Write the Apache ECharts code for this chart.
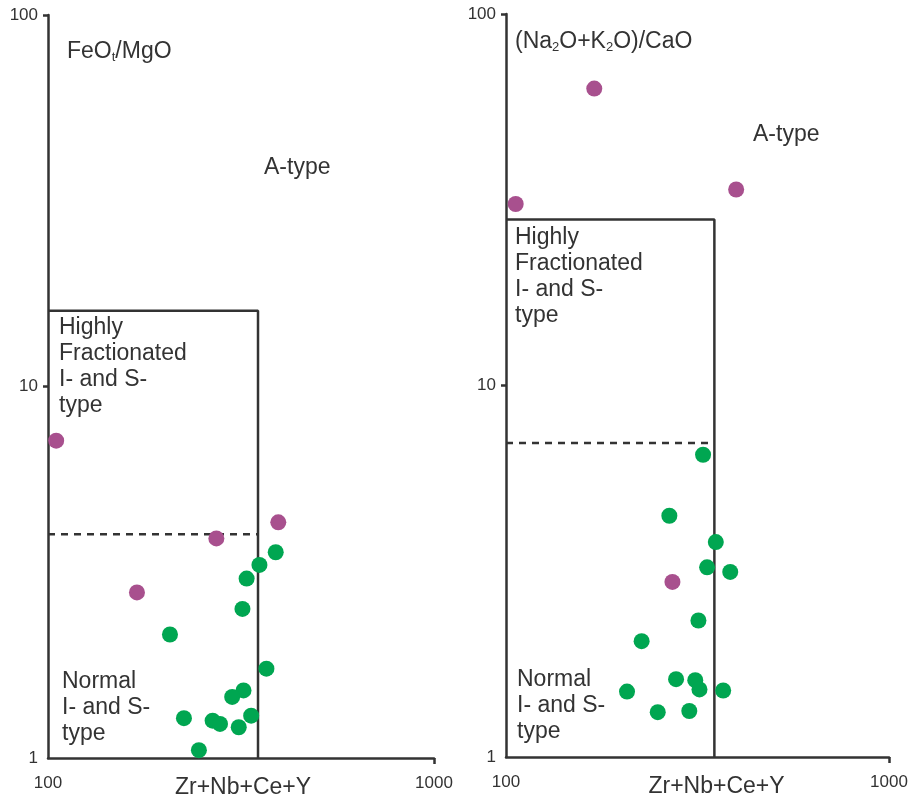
<!DOCTYPE html>
<html>
<head>
<meta charset="utf-8">
<script src="https://cdn.jsdelivr.net/npm/echarts@6/dist/echarts.min.js"></script>
<style>
  html, body { margin: 0; padding: 0; background: #fff; }
  #chart { width: 917px; height: 800px; }
</style>
</head>
<body>
<div id="chart"></div>
<script>
// Granite discrimination diagrams (Zr+Nb+Ce+Y vs FeOt/MgO and (Na2O+K2O)/CaO)

// Tick labels
const xTickValues = [100, 1000];
const yTickValues = [1, 10, 100];

// Panel 1: FeOt/MgO
const feoPurpleX = [105, 273, 395, 170];
const feoPurpleY = [7.15, 3.9, 4.31, 2.79];
const feoGreenX = [389, 353, 327, 319, 207, 368, 321, 300, 225, 267, 279, 336, 312, 246];
const feoGreenY = [3.58, 3.31, 3.04, 2.52, 2.15, 1.74, 1.52, 1.46, 1.28, 1.26, 1.235, 1.30, 1.21, 1.05];
// Field boundaries
const feoBoxX = [100, 350, 350];
const feoBoxY = [16, 16, 1];
const feoDashX = [100, 350];
const feoDashY = [4, 4];

// Panel 2: (Na2O+K2O)/CaO
const alkPurpleX = [170, 106, 399, 272];
const alkPurpleY = [63, 30.8, 33.7, 2.96];
const alkGreenX = [327, 267, 353, 335, 385, 318, 226, 278, 312, 320, 369, 207, 249, 301];
const alkGreenY = [6.51, 4.46, 3.79, 3.24, 3.15, 2.33, 2.05, 1.62, 1.61, 1.52, 1.51, 1.50, 1.32, 1.33];
const alkBoxX = [100, 350, 350];
const alkBoxY = [28, 28, 1];
const alkDashX = [100, 350];
const alkDashY = [7, 7];

const xName = 'Zr+Nb+Ce+Y';

const INK = '#333333';
const PURPLE = '#A8508E';
const GREEN = '#00A651';
const FONT = 'Liberation Sans, Arial, sans-serif';

const zip = (xs, ys) => xs.map((x, i) => [x, ys[i]]);

function xAxisFor(gridIndex, namePad) {
  return {
    type: 'log', logBase: 10, gridIndex,
    min: xTickValues[0], max: xTickValues[xTickValues.length - 1],
    name: xName, nameLocation: 'middle', nameGap: 18, nameMoveOverlap: false,
    nameTextStyle: { fontFamily: FONT, fontSize: 23, color: INK, padding: namePad },
    axisLine: { show: true, onZero: false, lineStyle: { color: INK, width: 2.5 } },
    axisTick: { show: true, customValues: [1000], length: 6, lineStyle: { color: INK, width: 2.5 } },
    axisLabel: {
      show: true, customValues: xTickValues, margin: 17,
      fontFamily: FONT, fontSize: 17, color: INK,
      formatter: v => String(Math.round(v))
    },
    splitLine: { show: false }, minorTick: { show: false }
  };
}

function yAxisFor(gridIndex) {
  return {
    type: 'log', logBase: 10, gridIndex,
    min: yTickValues[0], max: yTickValues[yTickValues.length - 1],
    axisLine: { show: true, onZero: false, lineStyle: { color: INK, width: 2.5 } },
    axisTick: { show: true, customValues: [10, 100], length: 5, lineStyle: { color: INK, width: 2.5 } },
    axisLabel: {
      show: true, customValues: yTickValues, margin: 10,
      fontFamily: FONT, fontSize: 17, color: INK,
      formatter: v => String(Math.round(v))
    },
    splitLine: { show: false }, minorTick: { show: false }
  };
}

function fieldLines(idx, bx, by, dx, dy) {
  return [
    {
      type: 'line', xAxisIndex: idx, yAxisIndex: idx, data: zip(bx, by),
      symbol: 'none', silent: true, z: 2,
      lineStyle: { color: INK, width: 2.5 }
    },
    {
      type: 'line', xAxisIndex: idx, yAxisIndex: idx, data: zip(dx, dy),
      symbol: 'none', silent: true, z: 2,
      lineStyle: { color: INK, width: 2.5, type: [7, 6] }
    }
  ];
}

function points(idx, xs, ys, color) {
  return {
    type: 'scatter', xAxisIndex: idx, yAxisIndex: idx, data: zip(xs, ys),
    symbol: 'circle', symbolSize: 16, z: 5,
    itemStyle: { color: color, opacity: 1 }
  };
}

const textStyle = (text, x, y, extra) => ({
  type: 'text', x, y, z: 10,
  style: Object.assign({ text, fill: INK, font: '23px ' + FONT, textVerticalAlign: 'middle' }, extra || {})
});

const blockStyle = (text, x, y) => ({
  type: 'text', x, y, z: 10,
  style: { text, fill: INK, font: '23px ' + FONT, lineHeight: 26, textVerticalAlign: 'top' }
});

const subRich = { s: { fontSize: 13, fontFamily: FONT, fill: INK, padding: [10, 0, 0, 0] } };

const chart = echarts.init(document.getElementById('chart'), null, { renderer: 'canvas' });

chart.setOption({
  backgroundColor: '#ffffff',
  animation: false,
  grid: [
    { left: 48, top: 15, width: 386, height: 743, containLabel: false, outerBoundsMode: 'none' },
    { left: 506, top: 14, width: 383, height: 743, containLabel: false, outerBoundsMode: 'none' }
  ],
  xAxis: [xAxisFor(0, [0, 0, 0, 4]), xAxisFor(1, [0, 0, 0, 38])],
  yAxis: [yAxisFor(0), yAxisFor(1)],
  series: [
    ...fieldLines(0, feoBoxX, feoBoxY, feoDashX, feoDashY),
    ...fieldLines(1, alkBoxX, alkBoxY, alkDashX, alkDashY),
    points(0, feoPurpleX, feoPurpleY, PURPLE),
    points(0, feoGreenX, feoGreenY, GREEN),
    points(1, alkPurpleX, alkPurpleY, PURPLE),
    points(1, alkGreenX, alkGreenY, GREEN)
  ],
  graphic: [
    textStyle('FeO{s|t}/MgO', 67, 52, { rich: subRich }),
    textStyle('A-type', 264, 168),
    blockStyle('Highly\nFractionated\nI- and S-\ntype', 59, 315),
    blockStyle('Normal\nI- and S-\ntype', 62, 669),

    textStyle('(Na{s|2}O+K{s|2}O)/CaO', 515, 42, { rich: subRich }),
    textStyle('A-type', 753, 135),
    blockStyle('Highly\nFractionated\nI- and S-\ntype', 515, 225),
    blockStyle('Normal\nI- and S-\ntype', 517, 667)
  ]
});
</script>
</body>
</html>
